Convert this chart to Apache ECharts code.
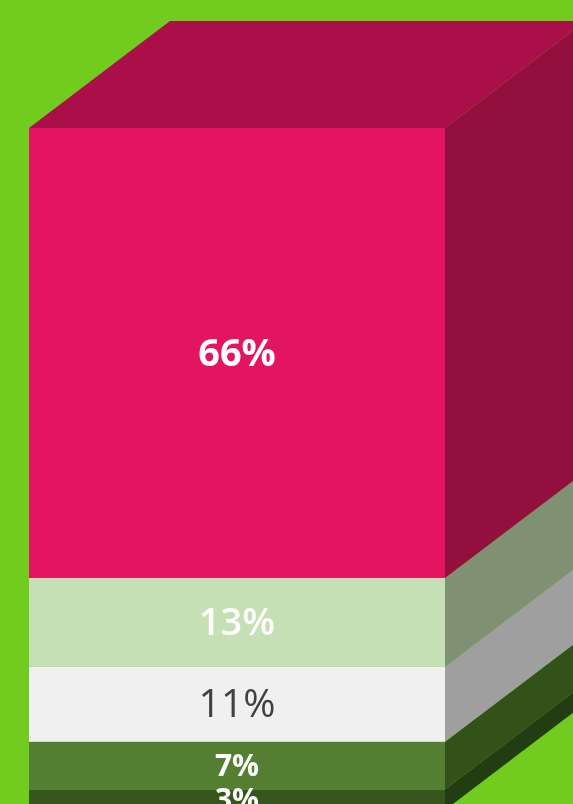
<!DOCTYPE html>
<html>
<head>
<meta charset="utf-8">
<style>
html, body { margin: 0; padding: 0; background: #72cb1f; overflow: hidden; }
#chart { width: 573px; height: 804px; }
</style>
<script src="https://cdn.jsdelivr.net/npm/echarts@6/dist/echarts.min.js"></script>
</head>
<body>
<div id="chart"></div>
<script>
// bottom segment first, the stack is cut off by the bottom of the picture
var categories = ['share'];
var values = [3, 7, 11, 13, 66];

var frontColors = ['#36561d', '#547e32', '#f0f0f0', '#c5e0b4', '#e31560'];
var sideColors = ['#233d12', '#325219', '#9f9f9f', '#7f9172', '#920f3e'];
var topColor = '#aa0f4a';
var labelColors = ['#ffffff', '#ffffff', '#404040', '#ffffff', '#ffffff'];
var labelSizes = [30, 30, 39, 38, 38];
var labelWeights = ['bold', 'bold', 'normal', 600, 'bold'];

// how far the back of the box is shifted from the front, in pixels
var depthX = 141;
var depthY = 107;

var chart = echarts.init(document.getElementById('chart'));

function sidePoints(x, yLow, yHigh) {
    return [
        [x, yHigh],
        [x + depthX, yHigh - depthY],
        [x + depthX, yLow - depthY],
        [x, yLow]
    ];
}

var series = [];
var sideData = [];
var base = 0;
for (var i = 0; i < values.length; i++) {
    sideData.push([0, base, base + values[i]]);
    base += values[i];
    series.push({
        type: 'bar',
        stack: 'total',
        barWidth: '100%',
        itemStyle: { color: frontColors[i] },
        label: {
            show: true,
            position: 'inside',
            offset: [0, 2],
            formatter: '{c}%',
            color: labelColors[i],
            fontFamily: 'Open Sans',
            fontSize: labelSizes[i],
            fontWeight: labelWeights[i]
        },
        data: [values[i]],
        z: 3
    });
}

// right hand side of the box
series.push({
    type: 'custom',
    clip: false,
    silent: true,
    z: 2,
    data: sideData,
    encode: { x: 0, y: [1, 2] },
    renderItem: function (params, api) {
        var right = params.coordSys.x + params.coordSys.width;
        var yLow = api.coord([0, api.value(1)])[1];
        var yHigh = api.coord([0, api.value(2)])[1];
        return {
            type: 'polygon',
            shape: { points: sidePoints(right, yLow, yHigh) },
            style: { fill: sideColors[params.dataIndex] }
        };
    }
});

// top of the box
series.push({
    type: 'custom',
    clip: false,
    silent: true,
    z: 2,
    data: [[0, base]],
    encode: { x: 0, y: 1 },
    renderItem: function (params, api) {
        var left = params.coordSys.x;
        var right = left + params.coordSys.width;
        var y = api.coord([0, api.value(1)])[1];
        return {
            type: 'polygon',
            shape: {
                points: [
                    [left, y],
                    [left + depthX, y - depthY],
                    [right + depthX, y - depthY],
                    [right, y]
                ]
            },
            style: { fill: topColor }
        };
    }
});

chart.setOption({
    animation: false,
    backgroundColor: '#72cb1f',
    // the box runs past the bottom of the picture
    grid: { left: 29, top: 128, width: 416, height: 682, outerBoundsMode: 'none' },
    xAxis: { type: 'category', data: categories, show: false },
    yAxis: { type: 'value', min: 0, max: 100, show: false },
    series: series
});
</script>
</body>
</html>
